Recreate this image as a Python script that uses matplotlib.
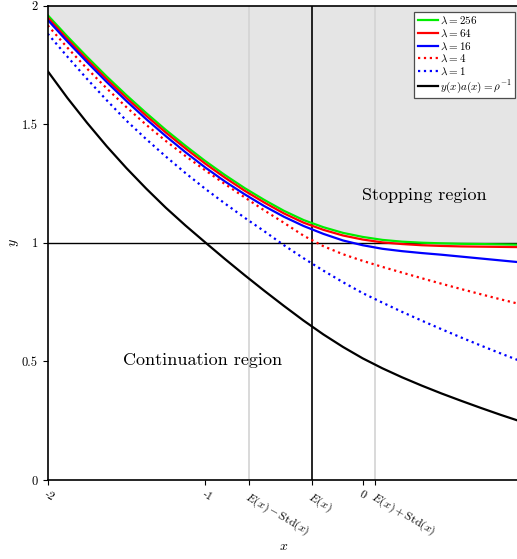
import matplotlib
matplotlib.use("Agg")
import matplotlib.pyplot as plt

plt.rcParams["font.family"] = "serif"
plt.rcParams["font.serif"] = ["cmr10"]
plt.rcParams["mathtext.fontset"] = "cm"
plt.rcParams["axes.unicode_minus"] = False
plt.rcParams["axes.formatter.use_mathtext"] = True

# Data (x step 0.125)
x = [-2.0, -1.875, -1.75, -1.625, -1.5, -1.375, -1.25, -1.125, -1.0,
     -0.875, -0.75, -0.625, -0.5, -0.375, -0.25, -0.125, 0.0,
     0.125, 0.25, 0.375, 0.5, 0.625, 0.75, 0.875, 1.0]
lam_256 = [1.96, 1.87, 1.784, 1.701, 1.6225, 1.5475, 1.476, 1.409, 1.345,
           1.286, 1.231, 1.181, 1.135, 1.096, 1.066, 1.042, 1.025,
           1.0125, 1.005, 1.0006, 0.998, 0.996, 0.995, 0.9935, 0.992]
lam_64 = [1.95, 1.859, 1.773, 1.69, 1.611, 1.536, 1.465, 1.398, 1.334,
          1.275, 1.22, 1.17, 1.124, 1.085, 1.055, 1.031, 1.014,
          1.002, 0.995, 0.99, 0.987, 0.985, 0.984, 0.983, 0.982]
lam_16 = [1.94, 1.849, 1.762, 1.678, 1.598, 1.522, 1.45, 1.382, 1.318,
          1.259, 1.205, 1.155, 1.11, 1.071, 1.038, 1.01, 0.99,
          0.975, 0.965, 0.957, 0.95, 0.942, 0.934, 0.926, 0.918]
lam_4 = [1.917, 1.823, 1.7345, 1.651, 1.572, 1.498, 1.4295, 1.366, 1.306,
         1.248, 1.192, 1.137, 1.0845, 1.03, 0.986, 0.952, 0.924,
         0.8986, 0.8746, 0.8508, 0.8277, 0.8052, 0.7833, 0.762, 0.7414]
lam_1 = [1.882, 1.785, 1.691, 1.601, 1.515, 1.4375, 1.364, 1.294, 1.228,
         1.166, 1.106, 1.049, 0.99, 0.935, 0.883, 0.834, 0.788,
         0.748, 0.709, 0.672, 0.636, 0.601, 0.567, 0.534, 0.502]
boundary = [1.724, 1.611, 1.506, 1.407, 1.315, 1.229, 1.148, 1.073, 1.002,
            0.932, 0.864, 0.798, 0.734, 0.672, 0.614, 0.561, 0.513,
            0.471, 0.433, 0.398, 0.365, 0.334, 0.304, 0.275, 0.2475]

mean_x = -0.32
std_x = 0.40

xticks = [-2, -1, mean_x - std_x, mean_x, 0, mean_x + std_x]
xticklabels = ["-2", "-1", r"$E(x)-\mathrm{Std}(x)$", r"$E(x)$", "0",
               r"$E(x)+\mathrm{Std}(x)$"]
yticks = [0, 0.5, 1, 1.5, 2]
yticklabels = ["0", "0.5", "1", "1.5", "2"]

fig = plt.figure(figsize=(5.17, 5.59), dpi=100)
ax = fig.add_axes([0.0923, 0.1413, 0.9139, 0.8485])

# Stopping region shading
ax.fill_between(x, lam_256, 2, color="#e5e5e5", lw=0, zorder=0)

ax.axvline(mean_x - std_x, color="#d3d3d3", lw=1.2, zorder=1)
ax.axvline(mean_x + std_x, color="#d3d3d3", lw=1.2, zorder=1)
ax.axvline(mean_x, color="black", lw=1.2, zorder=1)
ax.axhline(1, color="black", lw=1.0, zorder=1)

ax.plot(x, lam_256, color="#00ee00", lw=1.6, label=r"$\lambda=256$")
ax.plot(x, lam_64, color="red", lw=1.6, label=r"$\lambda=64$")
ax.plot(x, lam_16, color="blue", lw=1.6, label=r"$\lambda=16$")
ax.plot(x, lam_4, color="red", lw=1.6, ls=":", label=r"$\lambda=4$")
ax.plot(x, lam_1, color="blue", lw=1.6, ls=":", label=r"$\lambda=1$")
ax.plot(x, boundary, color="black", lw=1.6, label=r"$y(x)a(x)=\rho^{-1}$")

ax.text(0.39, 1.2, "Stopping region", fontsize=13, ha="center", va="center")
ax.text(-1.02, 0.506, "Continuation region", fontsize=13, ha="center", va="center")

ax.set_xlim(-2, 1)
ax.set_ylim(0, 2)
ax.set_xticks(xticks)
ax.set_xticklabels(xticklabels, fontsize=8.5, rotation=-30, ha="left",
                   va="top", rotation_mode="anchor")
ax.set_yticks(yticks)
ax.set_yticklabels(yticklabels, fontsize=9)
ax.set_xlabel(r"$x$", fontsize=10, labelpad=1)
ax.set_ylabel(r"$y$", fontsize=10, labelpad=0.5)
for s in ax.spines.values():
    s.set_linewidth(1.2)

leg = ax.legend(loc="upper right", bbox_to_anchor=(515 / 517, 1 - 11.7 / 559),
                bbox_transform=fig.transFigure, borderaxespad=0, fontsize=8,
                fancybox=False, framealpha=1, edgecolor="0.3",
                labelspacing=0.12, handlelength=1.8, handletextpad=0.2,
                borderpad=0.3)
leg.get_frame().set_linewidth(0.9)

fig.savefig("out.png", dpi=100)
